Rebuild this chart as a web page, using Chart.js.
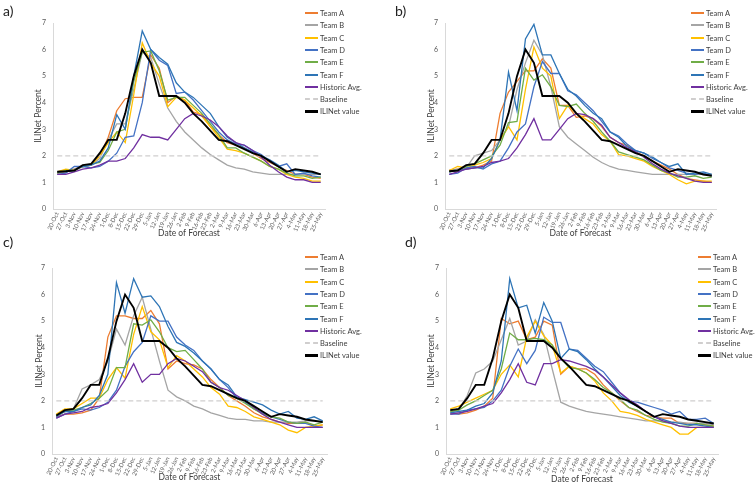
<!DOCTYPE html>
<html>
<head>
<meta charset="utf-8">
<script src="https://cdn.jsdelivr.net/npm/chart.js@4.4.1/dist/chart.umd.min.js"></script>
<style>
  body { margin: 0; background: #fff; }
  #wrap { position: relative; width: 756px; height: 488px; overflow: hidden; font-family: Lato, sans-serif; }
  #wrap canvas { position: absolute; }
  .tag { position: absolute; font-size: 14px; color: #222; line-height: 14px; }
  .legend { position: absolute; font-size: 7.5px; color: #404040; }
  .row { position: absolute; left: 0; height: 12px; white-space: nowrap; display: flex; align-items: center; }
  .swatch { display: inline-block; width: 13px; margin-right: 2px; }
</style>
</head>
<body>
<div id="wrap"></div>
<script>
const forecastDates = ['20-Oct','27-Oct','3-Nov','10-Nov','17-Nov','24-Nov','1-Dec','8-Dec','15-Dec','22-Dec',
  '29-Dec','5-Jan','12-Jan','19-Jan','26-Jan','2-Feb','9-Feb','16-Feb','23-Feb','2-Mar','9-Mar','16-Mar',
  '23-Mar','30-Mar','6-Apr','13-Apr','20-Apr','27-Apr','4-May','11-May','18-May','25-May'];

// observed ILINet, each panel starts one week later (longer horizon)
const iliNet = [1.4,1.42,1.45,1.65,1.7,2.1,2.6,2.6,3.6,5.0,6.0,5.5,4.25,4.25,4.25,4.0,3.6,3.3,2.95,2.6,
  2.55,2.4,2.25,2.1,2.0,1.8,1.6,1.4,1.5,1.45,1.4,1.3,1.25,1.2,1.15];
const baseline = 2.0;

// a)
const a_teamA = [1.35,1.4,1.5,1.6,1.65,2.0,2.7,3.7,4.15,4.2,4.2,5.8,5.3,4.0,4.25,4.1,3.65,3.55,3.1,2.8,2.5,2.4,2.3,2.1,1.9,1.75,1.6,1.45,1.3,1.3,1.2,1.15];
const a_teamB = [1.4,1.45,1.5,1.6,1.65,1.9,2.6,3.2,3.2,4.5,5.9,5.7,4.7,3.8,3.3,2.9,2.6,2.3,2.05,1.85,1.65,1.55,1.5,1.4,1.35,1.3,1.3,1.3,1.3,1.3,1.3,1.3];
const a_teamC = [1.4,1.5,1.45,1.6,1.65,2.0,2.5,2.9,2.5,4.3,6.25,5.5,5.0,3.85,4.2,4.1,3.8,3.5,3.1,2.7,2.25,2.2,2.1,1.95,1.8,1.6,1.5,1.3,1.2,1.15,1.05,1.05];
const a_teamD = [1.3,1.35,1.6,1.6,1.55,1.6,1.8,2.1,2.7,2.75,4.0,6.0,5.6,5.4,4.35,4.4,4.1,3.7,3.3,2.9,2.6,2.45,2.4,2.2,2.05,1.8,1.6,1.7,1.3,1.35,1.25,1.2];
const a_teamE = [1.35,1.45,1.45,1.6,1.7,1.75,2.2,2.9,3.0,4.8,5.9,5.95,5.2,4.1,4.2,4.2,3.9,3.6,3.2,2.8,2.3,2.3,2.1,1.95,1.8,1.6,1.5,1.35,1.25,1.25,1.15,1.2];
const a_teamF = [1.4,1.4,1.45,1.6,1.65,1.8,2.3,3.55,3.0,5.0,6.7,6.0,5.7,5.45,4.75,4.4,4.2,3.9,3.6,3.1,2.7,2.5,2.3,2.15,2.0,1.85,1.65,1.4,1.45,1.4,1.35,1.3];
const a_hist  = [1.3,1.3,1.4,1.5,1.55,1.65,1.8,1.8,1.9,2.3,2.8,2.7,2.7,2.6,3.0,3.4,3.6,3.5,3.35,3.1,2.75,2.5,2.4,2.2,1.95,1.65,1.4,1.2,1.1,1.1,1.0,1.0];

// b)
const b_teamA = [1.45,1.5,1.5,1.55,1.65,1.8,3.6,4.4,4.8,5.2,5.2,5.65,5.3,3.9,3.9,3.45,3.5,3.4,3.1,2.7,2.5,2.4,2.15,2.0,1.8,1.65,1.5,1.3,1.15,1.1,1.05,1.0];
const b_teamB = [1.45,1.5,1.55,2.0,2.1,2.2,2.6,3.1,4.5,5.5,6.35,5.8,4.6,3.1,2.7,2.45,2.2,1.95,1.75,1.6,1.5,1.45,1.4,1.35,1.3,1.3,1.3,1.3,1.3,1.3,1.3,1.3];
const b_teamC = [1.45,1.6,1.55,1.65,1.75,1.9,2.6,3.1,2.6,4.5,6.1,5.3,5.0,3.4,3.9,3.6,3.4,3.2,2.8,2.55,2.05,2.0,1.9,1.8,1.6,1.45,1.3,1.1,0.95,1.05,1.05,1.05];
const b_teamD = [1.3,1.35,1.55,1.6,1.5,1.7,1.8,2.3,2.9,3.2,4.6,5.55,5.1,5.1,4.45,4.3,4.0,3.7,3.3,2.9,2.75,2.45,2.2,2.1,1.9,1.75,1.55,1.45,1.35,1.3,1.35,1.25];
const b_teamE = [1.4,1.45,1.6,1.7,1.85,2.0,2.4,3.25,3.3,5.3,4.85,5.05,4.6,3.9,3.85,3.95,3.6,3.3,2.9,2.55,2.15,2.05,1.95,1.85,1.65,1.45,1.35,1.2,1.2,1.25,1.15,1.2];
const b_teamF = [1.4,1.45,1.5,1.55,1.55,1.9,2.6,5.15,3.7,6.4,6.95,5.8,5.8,5.1,4.5,4.25,3.9,3.6,3.4,2.9,2.7,2.35,2.2,2.1,1.95,1.75,1.6,1.7,1.3,1.35,1.4,1.3];
const b_hist  = [1.3,1.4,1.5,1.55,1.6,1.75,1.8,1.9,2.3,2.8,3.4,2.6,2.6,3.0,3.4,3.6,3.55,3.4,3.15,2.7,2.5,2.3,2.15,1.95,1.7,1.5,1.35,1.25,1.15,1.05,1.0,1.0];

// c)
const c_teamA = [1.4,1.5,1.5,1.55,1.65,2.1,4.4,5.2,5.2,5.1,5.1,5.4,4.9,3.2,3.5,3.4,3.35,3.2,2.8,2.5,2.2,2.0,1.8,1.55,1.4,1.3,1.2,1.15,1.15,1.2,1.05,1.1];
const c_teamB = [1.45,1.6,1.7,2.45,2.6,2.8,3.5,4.7,4.1,5.2,5.9,4.7,3.5,2.4,2.15,2.0,1.8,1.7,1.55,1.45,1.35,1.3,1.3,1.25,1.25,1.2,1.2,1.2,1.2,1.25,1.25,1.25];
const c_teamC = [1.5,1.7,1.7,1.9,2.1,2.1,2.8,3.25,2.85,4.5,5.55,4.6,4.3,3.25,3.7,3.5,3.2,2.9,2.5,2.25,1.8,1.75,1.6,1.4,1.3,1.2,1.1,0.9,0.8,1.0,1.05,1.1];
const c_teamD = [1.35,1.5,1.6,1.7,1.65,1.75,1.95,2.4,3.3,3.85,4.2,5.2,5.0,5.0,4.4,4.1,3.9,3.5,3.2,2.8,2.5,2.1,1.95,1.7,1.55,1.4,1.3,1.2,1.15,1.15,1.05,1.0];
const c_teamE = [1.45,1.6,1.65,1.75,1.9,2.1,2.4,3.25,3.25,4.9,4.85,5.05,4.6,4.0,3.85,3.9,3.55,3.2,2.7,2.5,2.2,2.1,1.9,1.7,1.5,1.4,1.35,1.2,1.15,1.2,1.1,1.2];
const c_teamF = [1.4,1.6,1.6,1.75,1.85,2.2,3.0,6.45,5.3,6.6,5.9,5.95,5.55,4.8,4.2,4.05,3.8,3.5,3.2,2.8,2.6,2.15,2.05,1.95,1.85,1.65,1.5,1.6,1.35,1.3,1.4,1.25];
const c_hist  = [1.35,1.5,1.55,1.6,1.75,1.8,1.9,2.3,2.8,3.4,2.7,3.0,3.0,3.4,3.6,3.5,3.3,3.1,2.7,2.5,2.4,2.2,2.0,1.75,1.5,1.3,1.2,1.1,1.0,1.0,1.0,1.0];

// d)
const d_teamA = [1.55,1.5,1.55,1.65,1.8,2.1,5.1,4.9,5.0,4.3,4.4,5.0,4.85,3.0,3.3,3.2,3.2,3.0,2.6,2.3,2.0,1.75,1.6,1.45,1.4,1.35,1.35,1.15,1.15,1.15,1.1,1.05];
const d_teamB = [1.6,1.65,2.2,3.05,3.2,3.5,4.3,5.1,4.1,4.25,5.05,4.5,3.2,1.95,1.8,1.7,1.6,1.55,1.5,1.45,1.4,1.35,1.3,1.25,1.25,1.25,1.2,1.2,1.15,1.15,1.15,1.1];
const d_teamC = [1.7,1.8,1.95,2.1,2.25,2.4,3.0,3.35,2.9,4.4,5.0,4.45,4.1,3.05,3.3,3.2,3.05,2.75,2.3,2.0,1.6,1.55,1.45,1.3,1.2,1.1,1.0,0.75,0.75,1.0,1.0,1.05];
const d_teamD = [1.5,1.5,1.65,1.7,1.75,2.0,2.4,3.3,3.95,3.4,3.9,5.15,4.95,4.95,3.95,3.9,3.6,3.3,3.1,2.7,2.3,2.0,1.95,1.85,1.75,1.65,1.5,1.6,1.3,1.3,1.35,1.15];
const d_teamE = [1.6,1.65,1.85,2.0,2.2,2.4,3.2,4.55,4.3,4.3,4.35,4.3,4.1,3.6,3.25,3.2,3.05,2.8,2.5,2.3,2.05,1.75,1.65,1.45,1.3,1.2,1.15,1.05,1.05,1.15,1.1,1.05];
const d_teamF = [1.55,1.6,1.65,1.8,1.9,2.3,3.5,6.6,5.5,5.6,4.55,5.7,5.0,3.6,3.95,3.85,3.55,3.2,2.9,2.55,2.2,1.95,1.8,1.6,1.4,1.3,1.2,1.15,1.1,1.1,1.05,1.0];
const d_hist  = [1.5,1.55,1.6,1.7,1.8,1.9,2.3,2.8,3.4,2.7,2.6,3.4,3.4,3.55,3.5,3.4,3.3,3.15,2.9,2.6,2.3,2.05,1.85,1.6,1.4,1.25,1.15,1.05,1.0,1.0,1.0,1.0];

const seriesNames  = ['Team A','Team B','Team C','Team D','Team E','Team F','Historic Avg.','Baseline','ILINet value'];
const seriesColors = ['#ED7D31','#A5A5A5','#FFC000','#4472C4','#70AD47','#2E75B6','#7030A0','#D0CECE','#000000'];

// chart area edges are pixels inside each 378x244 cell, legend/tag are page pixels
const panels = [
  { tag: 'a)', x: 0,   y: 0,   left: 53, right: 325, top: 23, bottom: 209, yTitleX: 38, xTitleY: 233, lx: 305, ly: 13,  tagX: 3,   tagY: 4,
    series: [a_teamA, a_teamB, a_teamC, a_teamD, a_teamE, a_teamF, a_hist], shift: 0 },
  { tag: 'b)', x: 378, y: 0,   left: 67, right: 338, top: 23, bottom: 209, yTitleX: 53, xTitleY: 233, lx: 691, ly: 13,  tagX: 395, tagY: 4,
    series: [b_teamA, b_teamB, b_teamC, b_teamD, b_teamE, b_teamF, b_hist], shift: 1 },
  { tag: 'c)', x: 0,   y: 244, left: 52, right: 327, top: 24, bottom: 210, yTitleX: 39, xTitleY: 233, lx: 305, ly: 257, tagX: 3,   tagY: 235,
    series: [c_teamA, c_teamB, c_teamC, c_teamD, c_teamE, c_teamF, c_hist], shift: 2 },
  { tag: 'd)', x: 378, y: 244, left: 68, right: 340, top: 24, bottom: 210, yTitleX: 53, xTitleY: 235, lx: 698, ly: 257, tagX: 405, tagY: 235,
    series: [d_teamA, d_teamB, d_teamC, d_teamD, d_teamE, d_teamF, d_hist], shift: 3 }
];

const W = 378, H = 244;
const titleSize = 8.5, titleHalf = titleSize * 1.2 / 2;
const wrap = document.getElementById('wrap');

panels.forEach(p => {
  const cv = document.createElement('canvas');
  cv.width = W; cv.height = H;
  cv.style.left = p.x + 'px'; cv.style.top = p.y + 'px';
  cv.style.width = W + 'px'; cv.style.height = H + 'px';
  wrap.appendChild(cv);

  const values = p.series.concat([
    forecastDates.map(() => baseline),
    iliNet.slice(p.shift, p.shift + forecastDates.length)
  ]);

  const datasets = values.map((v, i) => ({
    label: seriesNames[i],
    data: v,
    borderColor: seriesColors[i],
    backgroundColor: seriesColors[i],
    borderWidth: i === 8 ? 1.9 : 1.3,
    borderDash: i === 7 ? [5, 3] : [],
    pointRadius: 0,
    tension: 0,
    order: 8 - i
  }));

  const padLeft = p.yTitleX - titleHalf;

  new Chart(cv, {
    type: 'line',
    data: { labels: forecastDates, datasets: datasets },
    options: {
      responsive: false,
      animation: false,
      devicePixelRatio: 1,
      layout: { padding: { left: padLeft, right: W - p.right, top: p.top, bottom: 0 } },
      plugins: { legend: { display: false }, tooltip: { enabled: false } },
      scales: {
        x: {
          offset: true,
          grid: { display: false, drawTicks: false },
          border: { color: '#D9D9D9' },
          ticks: { autoSkip: false, minRotation: 65, maxRotation: 65, padding: 2,
                   font: { family: 'Lato', size: 6 }, color: '#595959' },
          title: { display: true, text: 'Date of Forecast', color: '#404040',
                   font: { family: 'Lato', size: titleSize },
                   padding: { top: 0, bottom: H - p.xTitleY - titleHalf } },
          afterFit: s => { s.height = H - p.bottom; }
        },
        y: {
          min: 0, max: 7,
          grid: { display: false, drawTicks: false },
          border: { color: '#D9D9D9' },
          ticks: { stepSize: 1, padding: 7, font: { family: 'Lato', size: 7 }, color: '#595959' },
          title: { display: true, text: 'ILINet Percent', color: '#404040',
                   font: { family: 'Lato', size: titleSize }, padding: 0 },
          afterFit: s => { s.width = p.left - padLeft; }
        }
      }
    }
  });

  const tag = document.createElement('div');
  tag.className = 'tag';
  tag.textContent = p.tag;
  tag.style.left = p.tagX + 'px'; tag.style.top = p.tagY + 'px';
  wrap.appendChild(tag);

  const lg = document.createElement('div');
  lg.className = 'legend';
  lg.style.left = p.lx + 'px'; lg.style.top = p.ly + 'px';
  seriesNames.forEach((name, i) => {
    const row = document.createElement('div');
    row.className = 'row';
    row.style.top = Math.round(i * 12.3 - 6) + 'px';
    const sw = document.createElement('span');
    sw.className = 'swatch';
    if (i === 7) {
      sw.style.height = '0px';
      sw.style.borderTop = '2px dashed ' + seriesColors[i];
    } else {
      sw.style.height = (i === 8 ? 3 : 2) + 'px';
      sw.style.background = seriesColors[i];
    }
    const tx = document.createElement('span');
    tx.textContent = name;
    row.appendChild(sw); row.appendChild(tx);
    lg.appendChild(row);
  });
  wrap.appendChild(lg);
});
</script>
</body>
</html>
